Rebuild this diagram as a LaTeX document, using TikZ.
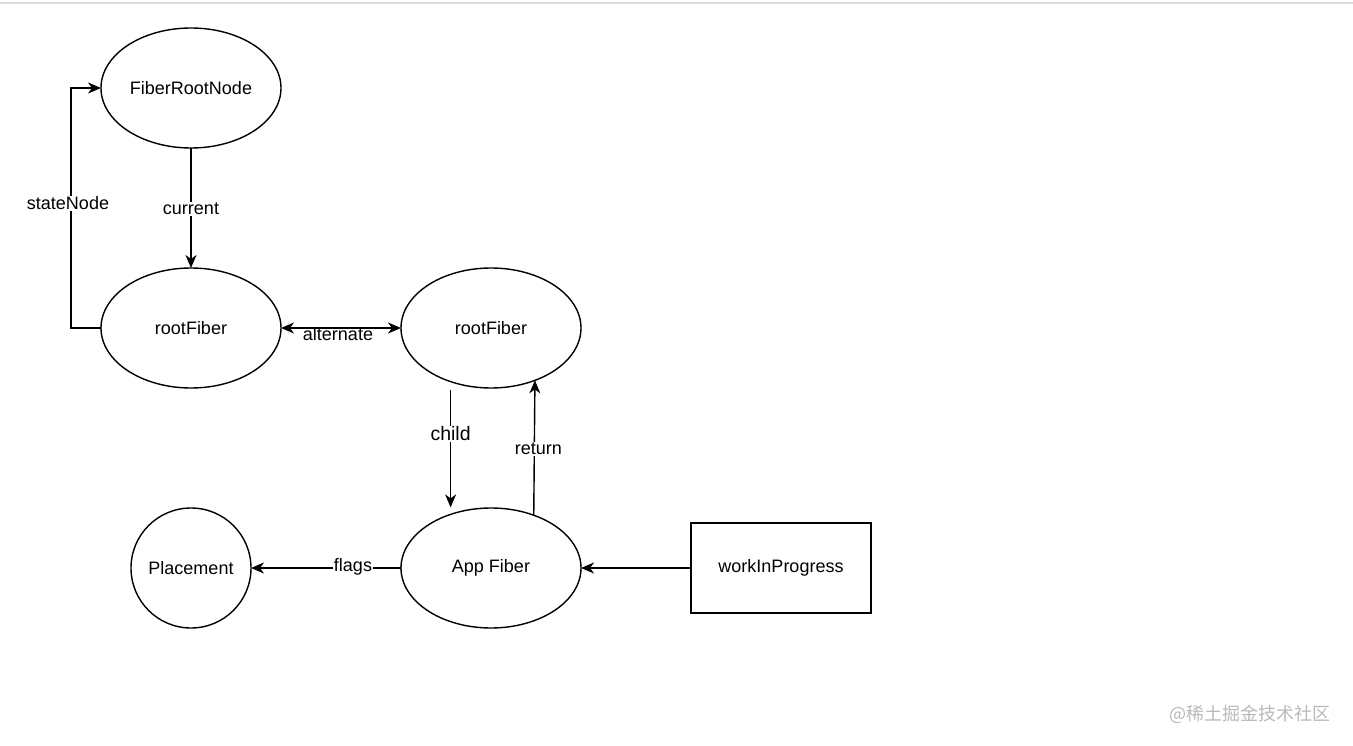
\documentclass[tikz,border=0pt]{standalone}
\usepackage{fontspec}
\setmainfont{Liberation Sans}
\newfontfamily\cjkfont{Noto Sans CJK SC}
\usetikzlibrary{positioning, arrows.meta, shapes.geometric}

\begin{document}
\begin{tikzpicture}[
    x=1pt, y=-1pt,
    font=\fontsize{18}{22}\selectfont,
    fiber/.style={draw, ellipse, line width=1.4pt, minimum width=180pt, minimum height=120pt, inner sep=1pt, outer sep=0pt},
    flagnode/.style={draw, circle, line width=1.4pt, minimum size=120pt, inner sep=1pt, outer sep=0pt},
    ptrbox/.style={draw, rectangle, line width=1.4pt, minimum width=180pt, minimum height=90pt, outer sep=0pt},
    arr/.style={-{Stealth[length=13pt, width=11pt, inset=4pt]}, line width=1.4pt},
    lbl/.style={fill=white, inner sep=1pt}
]
    \useasboundingbox (0,0) rectangle (1353,746);
    \fill[gray!30] (0,2) rectangle (1353,4);

    \node[fiber] (fiberRoot) at (191,88) {FiberRootNode};
    \node[fiber] (rootL) [below=120pt of fiberRoot] {rootFiber};
    \node[fiber] (rootR) [right=120pt of rootL] {rootFiber};
    \node[fiber] (appFiber) [below=120pt of rootR] {App Fiber};
    \node[flagnode] (placement) [left=150pt of appFiber] {Placement};
    \node[ptrbox] (wip) [right=110pt of appFiber] {workInProgress};

    \draw[arr] (fiberRoot.south) -- node[lbl, yshift=-1pt] {current} (rootL.north);
    \draw[arr] (rootL.west) -- ++(-30,0) |- node[lbl, pos=0.26, xshift=-3pt] {stateNode} (fiberRoot.west);
    \draw[arr, {Stealth[length=13pt, width=11pt, inset=4pt]}-{Stealth[length=13pt, width=11pt, inset=4pt]}] (rootL.east) -- node[inner sep=0pt, yshift=-6pt, xshift=-3pt] {alternate} (rootR.west);
    \draw[arr, shorten <=8pt, shorten >=7pt] (rootR.-127) -- node[lbl, pos=0.37, yshift=-3pt, font=\fontsize{19.5}{22}\selectfont] {child} (appFiber.127);
    \draw[arr] (appFiber.51) -- node[lbl, xshift=4pt, yshift=-1pt] {return} (rootR.-50);
    \draw[arr] (appFiber.west) -- node[lbl, pos=0.32, yshift=1pt] {flags} (placement.east);
    \draw[arr] (wip.west) -- (appFiber.east);

    \node[anchor=east, text=gray!55, font=\cjkfont\fontsize{18}{20}\selectfont] (mark) at (1334,714) {@稀土掘金技术社区};
\end{tikzpicture}
\end{document}
